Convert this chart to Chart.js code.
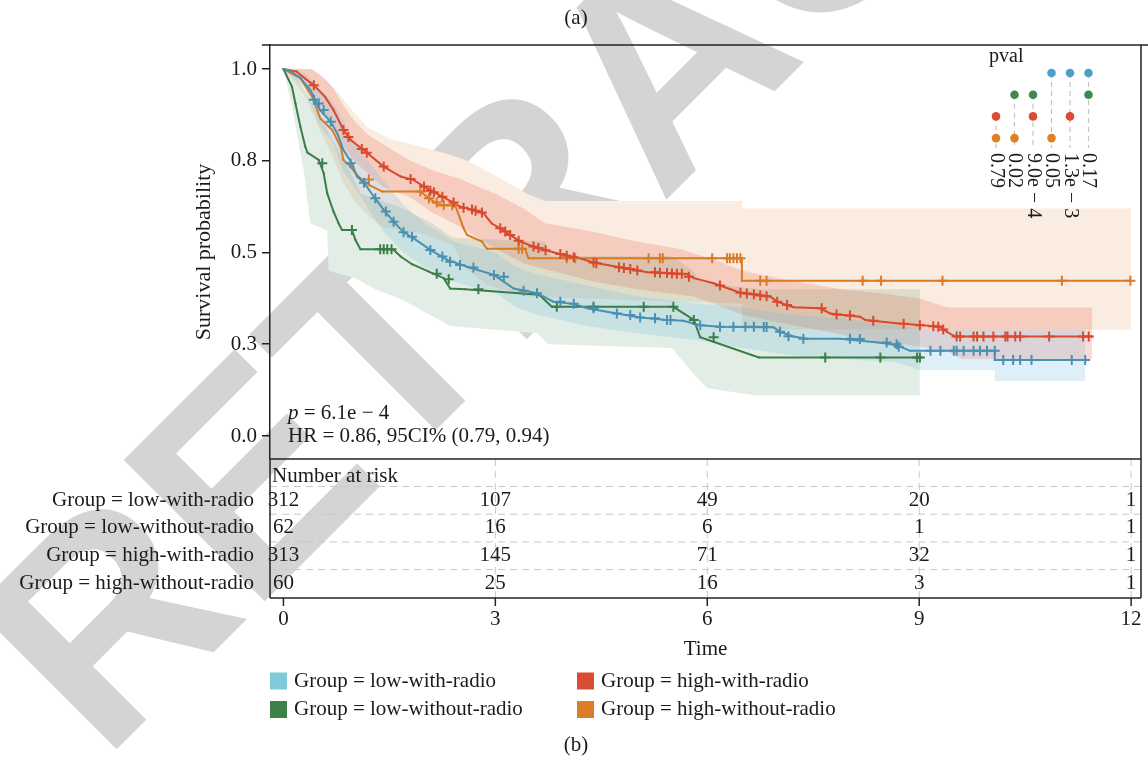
<!DOCTYPE html>
<html>
<head>
<meta charset="utf-8">
<title>Survival by group</title>
<script src="https://cdn.jsdelivr.net/npm/chart.js@4.4.1/dist/chart.umd.min.js"></script>
<style>
  html, body { margin: 0; padding: 0; background: #fff; }
  #km { display: block; }
</style>
</head>
<body>
<canvas id="km" width="1148" height="760"></canvas>
<script>
const groupNames = ['low-with-radio', 'low-without-radio', 'high-with-radio', 'high-without-radio'];

// Kaplan-Meier estimates, [time, survival]
const curveLowWith = [[0,1],[0.10,0.995],[0.24,0.975],[0.38,0.943],[0.52,0.888],[0.67,0.856],[0.76,0.825],[0.85,0.779],[0.97,0.743],[1.04,0.707],[1.14,0.690],[1.28,0.652],[1.42,0.616],[1.56,0.584],[1.70,0.555],[1.84,0.539],[2.08,0.507],[2.32,0.480],[2.60,0.461],[2.98,0.439],[3.26,0.402],[3.59,0.389],[3.82,0.366],[4.11,0.360],[4.30,0.348],[4.72,0.334],[5.05,0.323],[5.43,0.316],[5.66,0.314],[5.90,0.302],[6.18,0.298],[6.94,0.296],[7.03,0.284],[7.22,0.271],[7.41,0.265],[7.88,0.265],[8.42,0.255],[8.68,0.248],[8.87,0.232],[10.07,0.232],[10.07,0.207],[11.35,0.207]];
const curveLowWithout = [[0,1],[0.12,0.952],[0.17,0.906],[0.24,0.843],[0.31,0.788],[0.34,0.772],[0.50,0.752],[0.57,0.716],[0.62,0.661],[0.71,0.611],[0.78,0.580],[0.83,0.561],[0.97,0.561],[1.02,0.534],[1.09,0.509],[1.55,0.509],[1.66,0.489],[1.82,0.468],[2.06,0.448],[2.27,0.430],[2.36,0.402],[2.57,0.400],[3.62,0.385],[3.80,0.352],[5.52,0.352],[5.81,0.316],[5.90,0.269],[6.73,0.214],[9.01,0.214]];
const curveHighWith = [[0,1],[0.19,0.993],[0.24,0.984],[0.43,0.956],[0.59,0.924],[0.71,0.888],[0.85,0.834],[0.95,0.807],[1.16,0.775],[1.42,0.734],[1.66,0.707],[1.84,0.698],[2.03,0.675],[2.27,0.650],[2.50,0.625],[2.69,0.616],[2.83,0.607],[2.95,0.579],[3.07,0.566],[3.21,0.548],[3.35,0.530],[3.54,0.516],[3.87,0.498],[4.20,0.484],[4.39,0.473],[4.72,0.461],[5.15,0.446],[5.71,0.441],[5.81,0.430],[6.09,0.416],[6.33,0.400],[6.47,0.390],[6.89,0.380],[6.99,0.366],[7.22,0.351],[7.60,0.348],[7.74,0.334],[8.16,0.325],[8.24,0.316],[8.68,0.307],[9.30,0.298],[9.39,0.284],[9.51,0.271],[11.45,0.271]];
const curveHighWithout = [[0,1],[0.24,0.975],[0.41,0.924],[0.52,0.866],[0.69,0.834],[0.81,0.788],[0.85,0.752],[0.95,0.734],[1.02,0.716],[1.09,0.702],[1.21,0.684],[1.40,0.666],[1.94,0.666],[2.06,0.648],[2.20,0.629],[2.43,0.629],[2.50,0.593],[2.55,0.566],[2.60,0.548],[2.81,0.530],[2.88,0.510],[3.42,0.510],[3.47,0.484],[6.49,0.484],[6.49,0.423],[12.0,0.423]];

// censored observations, [time, survival]
const censorLowWith = [[0.43,0.916],[0.50,0.906],[0.57,0.888],[0.67,0.856],[0.95,0.743],[1.14,0.690],[1.30,0.648],[1.45,0.612],[1.56,0.584],[1.70,0.555],[1.82,0.543],[2.08,0.507],[2.25,0.489],[2.36,0.475],[2.50,0.466],[2.69,0.459],[2.98,0.439],[3.12,0.434],[3.40,0.396],[3.59,0.389],[3.92,0.366],[4.11,0.360],[4.39,0.348],[4.72,0.334],[4.91,0.330],[5.05,0.323],[5.26,0.321],[5.43,0.316],[5.48,0.316],[5.90,0.302],[6.18,0.298],[6.37,0.298],[6.54,0.298],[6.66,0.298],[6.80,0.297],[6.84,0.297],[7.03,0.284],[7.15,0.272],[7.36,0.265],[8.02,0.265],[8.16,0.264],[8.54,0.255],[8.68,0.250],[8.71,0.243],[9.16,0.232],[9.30,0.232],[9.49,0.232],[9.53,0.232],[9.63,0.232],[9.77,0.232],[9.86,0.232],[9.96,0.232],[10.07,0.232],[10.19,0.207],[10.33,0.207],[10.43,0.207],[10.59,0.207],[11.16,0.207],[11.35,0.207]];
const censorLowWithout = [[0.55,0.743],[0.97,0.561],[1.37,0.509],[1.42,0.509],[1.47,0.509],[1.53,0.509],[2.17,0.442],[2.34,0.427],[2.76,0.400],[3.87,0.352],[4.39,0.352],[5.10,0.352],[5.52,0.352],[5.81,0.316],[6.09,0.269],[7.67,0.214],[8.45,0.214],[8.97,0.214],[9.01,0.214]];
const censorHighWith = [[0.43,0.956],[0.85,0.834],[0.92,0.815],[1.11,0.782],[1.18,0.772],[1.42,0.734],[1.80,0.700],[1.99,0.680],[2.08,0.668],[2.13,0.664],[2.25,0.652],[2.41,0.636],[2.55,0.622],[2.67,0.617],[2.72,0.614],[2.81,0.609],[3.07,0.566],[3.14,0.557],[3.21,0.548],[3.33,0.532],[3.54,0.516],[3.61,0.512],[3.71,0.506],[3.92,0.496],[4.01,0.491],[4.11,0.487],[4.39,0.473],[4.43,0.471],[4.75,0.460],[4.82,0.458],[4.91,0.455],[5.01,0.451],[5.26,0.446],[5.33,0.445],[5.43,0.444],[5.50,0.443],[5.57,0.442],[5.64,0.442],[5.74,0.434],[6.18,0.410],[6.47,0.390],[6.56,0.388],[6.66,0.386],[6.75,0.383],[6.84,0.381],[6.99,0.366],[7.13,0.357],[7.62,0.348],[7.83,0.331],[8.02,0.328],[8.35,0.314],[8.78,0.306],[9.01,0.302],[9.20,0.299],[9.27,0.298],[9.34,0.290],[9.53,0.271],[9.58,0.271],[9.77,0.271],[9.82,0.271],[9.91,0.271],[10.05,0.271],[10.22,0.271],[10.25,0.271],[10.36,0.271],[10.43,0.271],[10.84,0.271],[11.32,0.271],[11.40,0.271]];
const censorHighWithout = [[1.21,0.699],[1.94,0.666],[2.06,0.648],[2.17,0.636],[2.27,0.629],[2.39,0.629],[3.33,0.510],[3.38,0.510],[4.01,0.484],[4.13,0.484],[5.17,0.484],[5.33,0.484],[5.37,0.484],[6.07,0.484],[6.28,0.484],[6.32,0.484],[6.37,0.484],[6.42,0.484],[6.47,0.484],[6.75,0.423],[6.84,0.423],[8.20,0.423],[8.46,0.423],[9.33,0.423],[11.02,0.423],[11.99,0.423]];

// 95% confidence bands, [time, bound]
const upperLowWith = [[0,1],[0.3,0.99],[0.5,0.95],[0.7,0.91],[0.85,0.86],[1.0,0.80],[1.2,0.75],[1.4,0.70],[1.7,0.63],[2.0,0.58],[2.4,0.53],[3.0,0.50],[3.3,0.46],[3.6,0.44],[4.3,0.41],[5.0,0.38],[5.9,0.36],[6.5,0.35],[7.2,0.33],[7.9,0.32],[8.7,0.30],[9.0,0.29],[11.35,0.29]];
const lowerLowWith = [[0,1],[0.3,0.95],[0.5,0.85],[0.7,0.80],[0.85,0.72],[1.0,0.68],[1.2,0.62],[1.4,0.56],[1.7,0.50],[2.0,0.46],[2.4,0.42],[3.0,0.39],[3.3,0.35],[3.6,0.33],[4.3,0.30],[5.0,0.28],[5.9,0.26],[6.5,0.24],[7.2,0.22],[8.7,0.20],[9.0,0.18],[10.07,0.18],[10.07,0.15],[11.35,0.15]];
const upperLowWithout = [[0,1],[0.15,0.99],[0.3,0.94],[0.45,0.89],[0.6,0.84],[0.8,0.77],[1.0,0.70],[1.1,0.66],[1.7,0.62],[2.1,0.58],[2.4,0.54],[3.7,0.53],[3.8,0.49],[5.5,0.49],[5.8,0.45],[5.9,0.42],[6.7,0.40],[9.01,0.40]];
const lowerLowWithout = [[0,1],[0.12,0.90],[0.29,0.72],[0.38,0.58],[0.62,0.56],[0.64,0.45],[1.02,0.43],[1.3,0.40],[1.7,0.37],[2.36,0.30],[3.6,0.28],[3.75,0.25],[5.5,0.24],[5.8,0.17],[6.0,0.13],[6.7,0.11],[9.01,0.11]];
const upperHighWith = [[0,1],[0.4,1.0],[0.55,0.98],[0.7,0.95],[0.85,0.90],[1.0,0.86],[1.2,0.82],[1.45,0.79],[1.8,0.75],[2.1,0.725],[2.5,0.70],[3.0,0.66],[3.4,0.62],[3.7,0.58],[4.3,0.56],[5.0,0.53],[5.6,0.51],[6.1,0.48],[6.5,0.45],[7.0,0.43],[7.9,0.40],[8.4,0.39],[9.0,0.375],[9.4,0.35],[11.45,0.35]];
const lowerHighWith = [[0,1],[0.3,0.97],[0.5,0.90],[0.7,0.85],[0.85,0.79],[1.0,0.75],[1.4,0.68],[1.8,0.65],[2.1,0.61],[2.5,0.57],[3.0,0.51],[3.4,0.47],[4.0,0.44],[4.4,0.42],[5.0,0.40],[5.8,0.38],[6.1,0.36],[6.5,0.33],[7.0,0.31],[7.8,0.28],[8.3,0.26],[8.8,0.25],[9.4,0.23],[9.6,0.21],[11.45,0.21]];
const upperHighWithout = [[0,1],[0.4,1.0],[0.6,0.97],[0.8,0.93],[1.0,0.88],[1.2,0.84],[1.5,0.81],[1.9,0.79],[2.3,0.77],[2.6,0.75],[3.0,0.71],[3.45,0.66],[3.7,0.64],[6.49,0.64],[6.49,0.62],[12.0,0.62]];
const lowerHighWithout = [[0,1],[0.3,0.93],[0.5,0.84],[0.7,0.76],[0.85,0.69],[1.0,0.64],[1.2,0.60],[1.4,0.57],[2.0,0.55],[2.4,0.52],[2.55,0.46],[2.9,0.41],[3.47,0.38],[6.49,0.36],[6.49,0.29],[12.0,0.29]];

// number at risk
const riskTimes = [0, 3, 6, 9, 12];
const riskLowWith = [312, 107, 49, 20, 1];
const riskLowWithout = [62, 16, 6, 1, 1];
const riskHighWith = [313, 145, 71, 32, 1];
const riskHighWithout = [60, 25, 16, 3, 1];

const xTickValues = [0, 3, 6, 9, 12];
const yTickValues = [0, 0.25, 0.5, 0.75, 1];
const yTickLabels = ['0.0', '0.3', '0.5', '0.8', '1.0'];

// pairwise log-rank p values; each pair indexes groupNames
const pvalLabels = ['0.79', '0.02', '9.0e \u2212 4', '0.05', '1.3e \u2212 3', '0.17'];
const pvalPairs = [[2, 3], [1, 3], [1, 2], [0, 3], [0, 2], [0, 1]];

const overallP = '6.1e \u2212 4';
const hrText = 'HR = 0.86, 95CI% (0.79, 0.94)';

// ---- styles ----
const SERIF = "'Liberation Serif', 'DejaVu Serif', serif";
const FONT = '21px ' + SERIF;
const INK = '#1b1b1b';
const lineColors = ['#4a90b2', '#3b7d46', '#d9492d', '#d97b25'];
const bandColors = ['rgba(110,180,225,0.22)', 'rgba(60,140,80,0.15)', 'rgba(230,80,55,0.2)', 'rgba(225,125,55,0.15)'];
const keyColors = ['#7ecad9', '#3f8049', '#d94c35', '#d97d27'];
const dotColors = ['#4d9ec9', '#3d8a4c', '#dd4a35', '#dd8125'];

const curves = [curveLowWith, curveLowWithout, curveHighWith, curveHighWithout];
const censors = [censorLowWith, censorLowWithout, censorHighWith, censorHighWithout];
const uppers = [upperLowWith, upperLowWithout, upperHighWith, upperHighWithout];
const lowers = [lowerLowWith, lowerLowWithout, lowerHighWith, lowerHighWithout];
const risks = [riskLowWith, riskLowWithout, riskHighWith, riskHighWithout];

const pts = arr => arr.map(([x, y]) => ({ x, y }));

const datasets = [];
groupNames.forEach((name, g) => {
  datasets.push({ label: name + ' upper', data: pts(uppers[g]), borderWidth: 0, borderColor: 'rgba(0,0,0,0)',
    pointRadius: 0, tension: 0, fill: '+1', backgroundColor: bandColors[g], order: 10 });
  datasets.push({ label: name + ' lower', data: pts(lowers[g]), borderWidth: 0, borderColor: 'rgba(0,0,0,0)',
    pointRadius: 0, tension: 0, fill: false, order: 10 });
});
groupNames.forEach((name, g) => {
  datasets.push({ label: name, data: pts(curves[g]), borderColor: lineColors[g], borderWidth: 2, tension: 0, fill: false,
    pointStyle: 'rect', pointRadius: 1.3, pointBorderWidth: 0, pointBackgroundColor: lineColors[g], order: 5 });
});
groupNames.forEach((name, g) => {
  datasets.push({ label: name + ' censored', data: pts(censors[g]), showLine: false, pointStyle: 'cross',
    pointRadius: 5, pointBorderWidth: 2, pointBorderColor: lineColors[g], order: 1 });
});

// grey diagonal stamp behind everything
const stamp = {
  id: 'stamp',
  beforeDraw(chart) {
    const ctx = chart.ctx;
    ctx.save();
    ctx.fillStyle = '#d4d4d4';
    ctx.font = "bold 290px 'Liberation Sans', Arial, sans-serif";
    ctx.translate(103, 763);
    ctx.rotate(-Math.PI / 4);
    ctx.fillText('RETRACTED', 0, 0);
    ctx.restore();
  }
};

// bands sit on white so the stamp does not show through them
const bandUnderlay = {
  id: 'bandUnderlay',
  beforeDatasetsDraw(chart) {
    const { ctx, chartArea: a } = chart;
    ctx.save();
    ctx.beginPath();
    ctx.rect(a.left, a.top, a.right - a.left, a.bottom - a.top);
    ctx.clip();
    ctx.fillStyle = '#fff';
    for (let g = 0; g < groupNames.length; g++) {
      const up = chart.getDatasetMeta(2 * g).data;
      const lo = chart.getDatasetMeta(2 * g + 1).data;
      ctx.beginPath();
      up.forEach((p, i) => (i ? ctx.lineTo(p.x, p.y) : ctx.moveTo(p.x, p.y)));
      for (let i = lo.length - 1; i >= 0; i--) ctx.lineTo(lo[i].x, lo[i].y);
      ctx.closePath();
      ctx.fill();
    }
    ctx.restore();
  }
};

function line(ctx, x1, y1, x2, y2) {
  ctx.beginPath();
  ctx.moveTo(x1, y1);
  ctx.lineTo(x2, y2);
  ctx.stroke();
}

// frame, risk table, p-value key, legend and captions
const furniture = {
  id: 'furniture',
  afterDraw(chart) {
    const { ctx, chartArea: a } = chart;
    const xs = chart.scales.x;
    const tableBottom = 598;
    const rowY = r => 500 + r * 27.7;

    ctx.save();
    ctx.fillStyle = INK;
    ctx.font = FONT;
    ctx.textBaseline = 'middle';

    // stats in the lower left corner
    ctx.textAlign = 'left';
    ctx.font = 'italic 21px ' + SERIF;
    ctx.fillText('p', 288, 413);
    const pw = ctx.measureText('p').width;
    ctx.font = FONT;
    ctx.fillText(' = ' + overallP, 288 + pw, 413);
    ctx.fillText(hrText, 288, 436);

    // risk table grid
    ctx.strokeStyle = '#c8c8c8';
    ctx.lineWidth = 1;
    ctx.setLineDash([7, 5]);
    for (let r = 0; r < 4; r++) line(ctx, a.left, rowY(r) - 13.5, a.right, rowY(r) - 13.5);
    xTickValues.slice(1).forEach(t => {
      const px = xs.getPixelForValue(t);
      line(ctx, px, a.bottom, px, tableBottom);
    });
    ctx.setLineDash([]);

    ctx.fillText('Number at risk', a.left + 2, 476);
    ctx.textAlign = 'right';
    groupNames.forEach((name, g) => ctx.fillText('Group = ' + name, 254, rowY(g)));
    ctx.textAlign = 'center';
    risks.forEach((row, g) => row.forEach((n, i) => ctx.fillText(String(n), xs.getPixelForValue(riskTimes[i]), rowY(g))));

    // frame lines
    ctx.strokeStyle = '#222';
    ctx.lineWidth = 1.5;
    line(ctx, 262, a.top, chart.width, a.top);
    line(ctx, a.right, a.top, a.right, tableBottom);
    line(ctx, a.left, a.bottom, a.right, a.bottom);
    line(ctx, a.left, a.bottom, a.left, tableBottom);
    line(ctx, a.left, tableBottom, a.right, tableBottom);
    xTickValues.forEach(t => {
      const px = xs.getPixelForValue(t);
      line(ctx, px, tableBottom, px, tableBottom + 8);
      ctx.fillText(String(t), px, 619);
    });
    ctx.fillText('Time', (a.left + a.right) / 2, 649);

    // captions
    ctx.fillText('(a)', 576, 18);
    ctx.fillText('(b)', 576, 745);

    // legend
    ctx.textAlign = 'left';
    groupNames.forEach((name, g) => {
      const lx = g < 2 ? 270 : 577;
      const ly = 681 + (g % 2) * 28.5;
      ctx.fillStyle = keyColors[g];
      ctx.fillRect(lx, ly - 8.5, 17, 17);
      ctx.fillStyle = INK;
      ctx.fillText('Group = ' + name, lx + 24, ly);
    });

    // pairwise p-value key
    const colX = i => 996 + i * 18.5;
    const dotY = g => 73 + g * 21.7;
    ctx.font = '20px ' + SERIF;
    ctx.fillText('pval', 989, 57);
    pvalPairs.forEach((pair, i) => {
      const cx = colX(i);
      const top = Math.min(...pair);
      ctx.strokeStyle = '#c4c4c4';
      ctx.lineWidth = 1.2;
      ctx.setLineDash([5, 4]);
      line(ctx, cx, dotY(top), cx, 148);
      ctx.setLineDash([]);
      pair.forEach(g => {
        ctx.fillStyle = dotColors[g];
        ctx.beginPath();
        ctx.arc(cx, dotY(g), 4.3, 0, Math.PI * 2);
        ctx.fill();
      });
      ctx.save();
      ctx.fillStyle = INK;
      ctx.translate(cx, 153);
      ctx.rotate(Math.PI / 2);
      ctx.textAlign = 'left';
      ctx.fillText(pvalLabels[i], 0, 0);
      ctx.restore();
    });
    ctx.restore();
  }
};

new Chart(document.getElementById('km'), {
  type: 'line',
  data: { datasets },
  options: {
    responsive: false,
    animation: false,
    devicePixelRatio: 1,
    layout: { padding: { left: 189, right: 7, top: 45, bottom: 301 } },
    plugins: { legend: { display: false }, tooltip: { enabled: false } },
    scales: {
      x: { type: 'linear', min: -0.19, max: 12.14, display: false },
      y: {
        type: 'linear',
        min: -0.0627,
        max: 1.0654,
        afterFit: s => { s.width = 81; },
        afterBuildTicks: s => { s.ticks = yTickValues.map(v => ({ value: v })); },
        ticks: { callback: (v, i) => yTickLabels[i], font: { family: SERIF, size: 21 }, color: INK, padding: 5 },
        grid: { drawOnChartArea: false, tickLength: 8, color: '#222', lineWidth: 1.5 },
        border: { display: true, color: '#222', width: 1.5 },
        title: { display: true, text: 'Survival probability', font: { family: SERIF, size: 22 }, color: INK, padding: 2 }
      }
    }
  },
  plugins: [stamp, bandUnderlay, furniture]
});
</script>
</body>
</html>
